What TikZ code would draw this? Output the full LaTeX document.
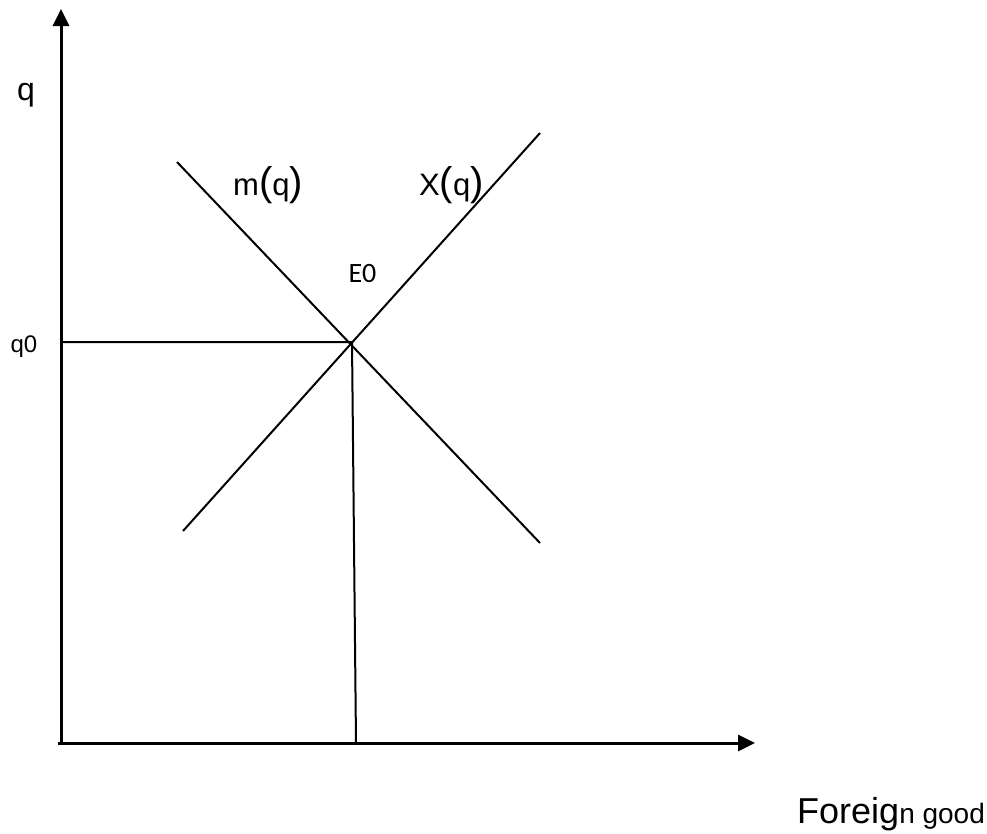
\documentclass[tikz,border=0pt]{standalone}
\usepackage{fontspec}
\setmainfont{Liberation Sans}
\newfontfamily\efont{Carlito}
\usetikzlibrary{arrows.meta}
\tikzset{
  axisline/.style={line width=3pt,-{Triangle[length=17pt,width=16pt]}},
  curve/.style={line width=2pt},
  guide/.style={line width=2pt},
  lbl/.style={inner sep=0pt,anchor=base west,font=\fontsize{31}{34}\selectfont},
}
\newcommand{\bigpar}[1]{{\fontsize{40}{42}\selectfont #1}}
\begin{document}
\begin{tikzpicture}[x=1pt,y=-1pt]
\useasboundingbox (0,0) rectangle (987,833);
\coordinate (ybot) at (61,745);
\coordinate (ytop) at (61,9);
\coordinate (xl) at (58,743);
\coordinate (xr) at (755,743);
\coordinate (E) at (352,342);
\coordinate (qz) at (61,342);
\coordinate (Eb) at (356,743);
\coordinate (m1) at (177,162);
\coordinate (m2) at (540,543);
\coordinate (x1) at (183,531);
\coordinate (x2) at (540,133);
\draw[axisline] (ybot) -- (ytop);
\draw[axisline] (xl) -- (xr);
\draw[guide] (qz) -- (E) -- (Eb);
\draw[curve] (m1) -- (m2);
\draw[curve] (x1) -- (x2);
\node[inner sep=0pt,anchor=base,font=\fontsize{32}{34}\selectfont] (lq) at (26,100) {q};
\node[inner sep=0pt,anchor=base,font=\fontsize{24}{26}\selectfont] (lq0) at (24,352) {q0};
\node[inner sep=0pt,anchor=base,font=\efont\fontsize{28}{30}\selectfont] (lE) at (362.5,282) {E0};
\node[lbl] (lm) at (233,195) {m\bigpar{(}q\bigpar{)}};
\node[lbl] (lx) at (419,195) {X\bigpar{(}q\bigpar{)}};
\node[inner sep=0pt,anchor=base west,font=\fontsize{36}{38}\selectfont] (lf) at (797,823) {Foreig{\fontsize{28}{30}\selectfont n good}};
\end{tikzpicture}
\end{document}
